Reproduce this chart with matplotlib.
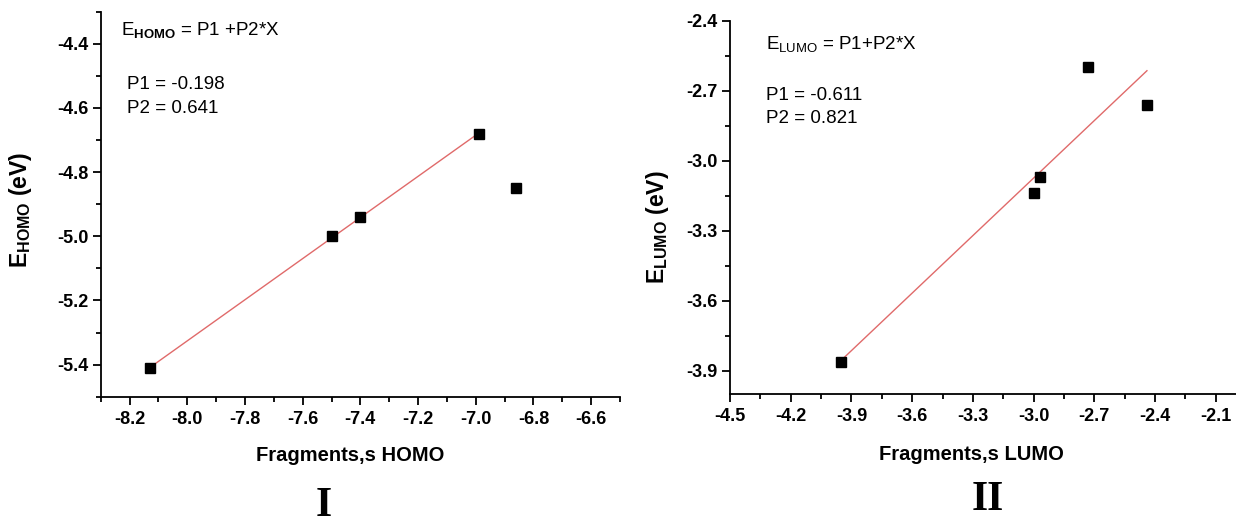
import matplotlib
matplotlib.use("Agg")
import matplotlib.pyplot as plt
from matplotlib.ticker import MultipleLocator, FormatStrFormatter
import numpy as np

# ---- data -------------------------------------------------------------
homo_fragment = [-8.13, -7.50, -7.40, -6.99, -6.86]
homo_molecule = [-5.41, -5.00, -4.94, -4.68, -4.85]
homo_in_fit = [True, True, True, True, False]
homo_P1, homo_P2 = -0.198, 0.641

lumo_fragment = [-3.95, -3.00, -2.97, -2.73, -2.44]
lumo_molecule = [-3.86, -3.14, -3.07, -2.60, -2.76]
lumo_in_fit = [True, True, True, True, True]
lumo_P1, lumo_P2 = -0.611, 0.821

# ---- style ------------------------------------------------------------
plt.rcParams["font.family"] = ["Liberation Sans", "DejaVu Sans"]
plt.rcParams["mathtext.fontset"] = "custom"
plt.rcParams["mathtext.rm"] = "Liberation Sans"
plt.rcParams["mathtext.bf"] = "Liberation Sans:bold"
plt.rcParams["mathtext.it"] = "Liberation Sans:italic"
plt.rcParams["axes.unicode_minus"] = False

W, H = 1236, 527
fig = plt.figure(figsize=(W / 100, H / 100), dpi=100)


def fx(x):
    return x / W


def fy(y):
    return 1 - y / H


def style_axes(ax, xmaj, ymaj):
    for side in ("top", "right"):
        ax.spines[side].set_visible(False)
    for side in ("left", "bottom"):
        ax.spines[side].set_linewidth(1.3)
    ax.xaxis.set_major_locator(MultipleLocator(xmaj))
    ax.xaxis.set_minor_locator(MultipleLocator(xmaj / 2))
    ax.yaxis.set_major_locator(MultipleLocator(ymaj))
    ax.yaxis.set_minor_locator(MultipleLocator(ymaj / 2))
    ax.xaxis.set_major_formatter(FormatStrFormatter("%.1f"))
    ax.yaxis.set_major_formatter(FormatStrFormatter("%.1f"))
    ax.tick_params(which="major", direction="out", length=6, width=1.3,
                   labelsize=13)
    ax.tick_params(which="minor", direction="out", length=3.5, width=1.3)
    ax.tick_params(axis="x", which="major", pad=4)
    ax.tick_params(axis="y", which="major", pad=3)
    for lab in ax.get_xticklabels() + ax.get_yticklabels():
        lab.set_fontweight("bold")


def draw_panel(ax, xs, ys, in_fit, p1, p2):
    xs = np.asarray(xs)
    fit_x = xs[np.asarray(in_fit)]
    line_x = np.array([fit_x.min(), fit_x.max()])
    ax.plot(line_x, p1 + p2 * line_x, color="#e06a6a", lw=1.0, zorder=2)
    ax.plot(xs, ys, ls="none", marker="s", ms=7, color="black", zorder=3,
            clip_on=False)


# ---- panel I : HOMO ---------------------------------------------------
axL = fig.add_axes([fx(100.7), fy(396.7), (620 - 100.7) / W, (396.7 - 11.7) / H])
draw_panel(axL, homo_fragment, homo_molecule, homo_in_fit, homo_P1, homo_P2)
axL.set_xlim(-8.3, -6.5)
axL.set_ylim(-5.5, -4.3)
style_axes(axL, 0.2, 0.2)
axL.set_xlabel("Fragments,s HOMO", fontsize=14.5, fontweight="bold")
axL.xaxis.set_label_coords(0.48, -0.154)
axL.xaxis.label.set_va("center")
axL.set_ylabel(r"E$_{\mathbf{HOMO}}$ (eV)", fontsize=16.5, fontweight="bold")
axL.yaxis.set_label_coords(-0.155, 0.485)
axL.yaxis.label.set_va("center")

fig.text(fx(121), fy(35), r"E$_{\mathbf{HOMO}}$ = P1 +P2*X", fontsize=13.5,
         va="baseline")
fig.text(fx(127), fy(89), f"P1 = {homo_P1}", fontsize=13.5, va="baseline")
fig.text(fx(127), fy(113), f"P2 = {homo_P2}", fontsize=13.5, va="baseline")
fig.text(fx(324), fy(506), "I", family="Liberation Serif", fontweight="bold",
         fontsize=30, ha="center", va="center")

# ---- panel II : LUMO --------------------------------------------------
axR = fig.add_axes([fx(730), fy(394.3), (1236 - 730) / W, (394.3 - 20.7) / H])
draw_panel(axR, lumo_fragment, lumo_molecule, lumo_in_fit, lumo_P1, lumo_P2)
axR.set_xlim(-4.5, -2.0)
axR.set_ylim(-4.0, -2.4)
style_axes(axR, 0.3, 0.3)
axR.set_xlabel("Fragments,s LUMO", fontsize=14.5, fontweight="bold")
axR.xaxis.set_label_coords(0.478, -0.160)
axR.xaxis.label.set_va("center")
axR.set_ylabel(r"E$_{\mathbf{LUMO}}$ (eV)", fontsize=16.5, fontweight="bold")
axR.yaxis.set_label_coords(-0.144, 0.448)
axR.yaxis.label.set_va("center")

fig.text(fx(766), fy(49), r"E$_{\mathregular{LUMO}}$ = P1+P2*X", fontsize=13.5,
         va="baseline")
fig.text(fx(766), fy(100), f"P1 = {lumo_P1}", fontsize=13.5, va="baseline")
fig.text(fx(766), fy(123), f"P2 = {lumo_P2}", fontsize=13.5, va="baseline")
fig.text(fx(988), fy(500), "II", family="Liberation Serif", fontweight="bold",
         fontsize=30, ha="center", va="center")

fig.savefig("out.png", dpi=100, facecolor="white")
